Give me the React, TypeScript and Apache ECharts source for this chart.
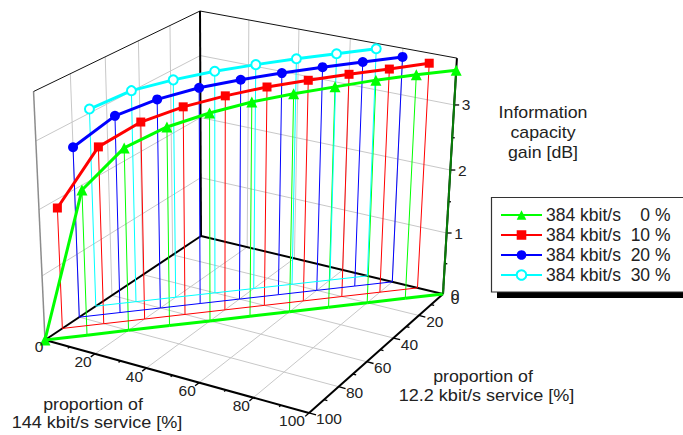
import React, { useEffect, useRef } from "react";
import * as echarts from "echarts";

// ---- data ----
const share144 = [0, 10, 20, 30, 40, 50, 60, 70, 80, 90, 100];
const gain0 = [0, 2.23, 2.79, 3.04, 3.19, 3.3, 3.37, 3.42, 3.47, 3.5, 3.52];
const gain10 = [1.87, 2.72, 3.03, 3.2, 3.31, 3.39, 3.44, 3.48, 3.51, 3.55];
const gain20 = [2.63, 3.04, 3.23, 3.35, 3.42, 3.47, 3.51, 3.54, 3.57];
const gain30 = [3.06, 3.28, 3.39, 3.47, 3.52, 3.56, 3.59, 3.62];
const seriesNames = ["384 kbit/s    0 %", "384 kbit/s  10 %", "384 kbit/s  20 %", "384 kbit/s  30 %"];
const shares384 = [0, 10, 20, 30];
const seriesGains = [gain0, gain10, gain20, gain30];
const seriesColors = ["#00ff00", "#ff0000", "#0000ff", "#00ffff"];
const seriesSymbols = ["triangle", "rect", "circle", "emptyCircle"];
const seriesSymbolSizes = [11, 9, 10, 9];
const floorTicks = [20, 40, 60, 80, 100];
const floorGrid = [20, 40, 60, 80];
const floorMinor = [10, 30, 50, 70, 90];
const zTicks = [1, 2, 3];
const zMinor = [0.5, 1.5, 2.5, 3.5];
const Z_MAX = 3.7;

// ---- perspective view of the 3D box (144 share, 12.2 share, gain) ----
const view = {
  px: [216.69, -161.06, -12, 201],
  py: [41.2, 65.8, -225.6, 236],
  pw: [-0.05714, -0.11234, -0.055, 1],
};
function project(a: number, b: number, z: number): number[] {
  const v = [a / 100, b / 100, z / Z_MAX, 1];
  const dot = (p: number[]) => p[0] * v[0] + p[1] * v[1] + p[2] * v[2] + p[3] * v[3];
  const w = dot(view.pw);
  return [dot(view.px) / w, dot(view.py) / w];
}
function seg(a0: number, b0: number, z0: number, a1: number, b1: number, z1: number): number[] {
  return [...project(a0, b0, z0), ...project(a1, b1, z1)];
}

function segSeries(segments: number[][], color: string, width: number, z: number) {
  return {
    type: "custom",
    silent: true,
    clip: false,
    z,
    encode: { x: [0, 2], y: [1, 3] },
    data: segments,
    renderItem: (_p: any, api: any) => {
      const p1 = api.coord([api.value(0), api.value(1)]);
      const p2 = api.coord([api.value(2), api.value(3)]);
      return {
        type: "line",
        shape: { x1: p1[0], y1: p1[1], x2: p2[0], y2: p2[1] },
        style: { stroke: color, lineWidth: width },
      };
    },
  };
}

const FONT = "Liberation Sans, Arial, sans-serif";
function label(text: string, x: number, y: number, size: number, stretch = 1) {
  return {
    type: "text",
    z: 10,
    x,
    y,
    scaleX: stretch,
    style: {
      text,
      x: 0,
      y: 0,
      fontSize: size,
      fontFamily: FONT,
      fill: "#222",
      textAlign: "center",
      textVerticalAlign: "middle",
    },
  };
}

function buildOption() {
  const gray: number[][] = [];
  for (const t of floorGrid) {
    gray.push(seg(t, 0, 0, t, 100, 0));
    gray.push(seg(0, t, 0, 100, t, 0));
    gray.push(seg(t, 0, 0, t, 0, Z_MAX));
    gray.push(seg(0, t, 0, 0, t, Z_MAX));
  }
  for (const z of zTicks) {
    gray.push(seg(0, 0, z, 100, 0, z));
    gray.push(seg(0, 0, z, 0, 100, z));
  }
  const thinBlack = [seg(0, 100, Z_MAX, 0, 0, Z_MAX), seg(0, 0, Z_MAX, 100, 0, Z_MAX)];
  const thickBlack = [
    seg(0, 0, 0, 0, 0, Z_MAX),
    seg(0, 0, 0, 0, 100, 0),
    seg(0, 0, 0, 100, 0, 0),
    seg(0, 100, 0, 100, 100, 0),
    seg(100, 0, 0, 100, 100, 0),
    seg(100, 0, 0, 100, 0, Z_MAX),
  ];
  const ticks: number[][] = [];
  for (const t of [...floorTicks]) {
    ticks.push(seg(t, 100, 0, t, 102.5, 0));
    ticks.push(seg(100, t, 0, 102.5, t, 0));
  }
  for (const t of floorMinor) {
    ticks.push(seg(t, 100, 0, t, 101.2, 0));
    ticks.push(seg(100, t, 0, 101.2, t, 0));
  }
  for (const z of zTicks) {
    const p = project(100, 0, z);
    ticks.push([p[0], p[1], p[0] + 5, p[1]]);
  }
  for (const z of zMinor) {
    const p = project(100, 0, z);
    ticks.push([p[0], p[1], p[0] + 2.5, p[1]]);
  }

  const series: any[] = [
    segSeries(gray, "#c8c8c8", 1, 1),
    segSeries([seg(0, 100, 0, 0, 100, Z_MAX)], "#8c8c8c", 1.5, 1),
    segSeries(thinBlack, "#111", 1, 1),
    segSeries(thickBlack, "#000", 2, 2),
    segSeries(ticks, "#000", 1.3, 2),
  ];

  seriesGains.forEach((gains, i) => {
    const total = 100 - shares384[i];
    const pts = gains.map((g, k) => {
      const a = share144[k];
      return { a, b: total - a, g };
    });
    const drops = pts.map((p) => seg(p.a, p.b, p.g, p.a, p.b, 0));
    const foot = pts.slice(1).map((p, k) => seg(pts[k].a, pts[k].b, 0, p.a, p.b, 0));
    series.push(segSeries(drops, seriesColors[i], 1, 3));
    series.push(segSeries(foot, seriesColors[i], i === 0 ? 3 : 1, 3));
    series.push({
      type: "line",
      name: seriesNames[i],
      data: pts.map((p) => project(p.a, p.b, p.g)),
      color: seriesColors[i],
      symbol: seriesSymbols[i],
      symbolSize: seriesSymbolSizes[i],
      showSymbol: true,
      clip: false,
      silent: true,
      z: 8 - i,
      lineStyle: { color: seriesColors[i], width: 3 },
      itemStyle: {
        color: seriesColors[i],
        borderColor: seriesColors[i],
        borderWidth: i === 3 ? 1.2 : 0,
      },
    });
  });
  // the z axis shows dark where the last green drop line runs over it
  series.push(segSeries([seg(100, 0, 0, 100, 0, gain0[gain0.length - 1])], "#0a7a0a", 2, 4));

  const graphics: any[] = [
    { type: "rect", z: 0, shape: { x: 497, y: 203, width: 190, height: 95 }, style: { fill: "#000" } },
    { type: "rect", z: 1, shape: { x: 491.5, y: 197.5, width: 195, height: 94.5 }, style: { fill: "#fff", stroke: "#333", lineWidth: 1.2 } },
    label("Information", 543, 113, 16, 1.11),
    label("capacity", 543, 133, 16, 1.11),
    label("gain [dB]", 543, 153, 16, 1.11),
    label("proportion of", 93, 405, 16, 1.11),
    label("144 kbit/s service [%]", 97, 423, 16, 1.13),
    label("proportion of", 483, 377, 16, 1.11),
    label("12.2 kbit/s service [%]", 486.5, 396, 16, 1.13),
  ];
  const p0 = project(0, 100, 0);
  graphics.push(label("0", p0[0] - 6, p0[1] + 7, 15.5));
  const pz0 = project(100, 0, 0);
  graphics.push(label("0", pz0[0] + 12, pz0[1] + 1, 15.5));
  graphics.push(label("0", pz0[0] + 12, pz0[1] + 5, 15.5));
  for (const t of floorTicks) {
    const pa = project(t, 100, 0);
    graphics.push(label(String(t), pa[0] + (t === 100 ? -17 : -12), pa[1] + 8, 15.5));
    const pb = project(100, t, 0);
    graphics.push(label(String(t), pb[0] + (t === 100 ? 20 : 16), pb[1] + 6, 15.5));
  }
  for (const z of zTicks) {
    const p = project(100, 0, z);
    graphics.push(label(String(z), p[0] + 12, p[1], 15.5));
  }

  return {
    animation: false,
    backgroundColor: "#fff",
    grid: { left: 0, right: 0, top: 0, bottom: 0 },
    xAxis: { type: "value", min: 0, max: 683, show: false },
    yAxis: { type: "value", min: 0, max: 435, inverse: true, show: false },
    legend: {
      left: 491,
      top: 198,
      padding: [8, 0, 8, 9],
      orient: "vertical",
      itemWidth: 41,
      itemHeight: 12,
      itemGap: 2,
      selectedMode: false,
      data: seriesNames,
      textStyle: { fontFamily: FONT, fontSize: 17.5, color: "#222", padding: [0, 0, 0, -1] },
    },
    graphic: graphics,
    series,
  };
}

export default function App() {
  const ref = useRef<HTMLDivElement>(null);
  useEffect(() => {
    const chart = echarts.init(ref.current!, undefined, { renderer: "svg" });
    chart.setOption(buildOption() as any);
    return () => chart.dispose();
  }, []);
  return <div ref={ref} style={{ position: "fixed", left: 0, top: 0, width: 683, height: 435 }} />;
}
